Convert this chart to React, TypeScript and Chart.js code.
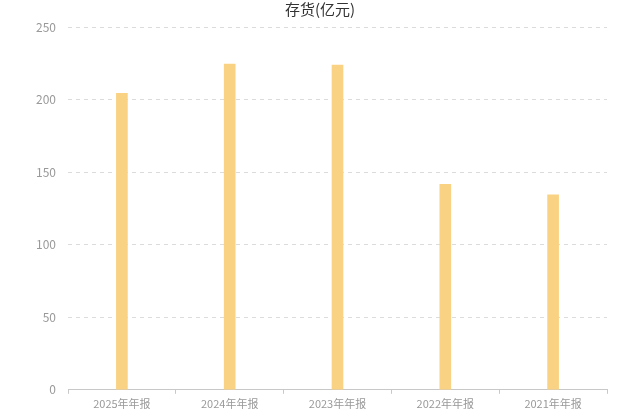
import { useEffect, useRef } from "react";
import Chart from "chart.js/auto";

// 存货(亿元) by annual report
const categories = ["2025年年报", "2024年年报", "2023年年报", "2022年年报", "2021年年报"];
const inventory = [204.3, 224.4, 223.8, 141.6, 134.3];
const yTicks = [0, 50, 100, 150, 200, 250];

const FONT = "'Noto Sans CJK SC', 'Noto Sans', sans-serif";

const App = () => {
  const chartRef = useRef<HTMLCanvasElement>(null);
  const chartInstance = useRef<Chart | null>(null);

  useEffect(() => {
    if (!chartRef.current) return;
    if (chartInstance.current) chartInstance.current.destroy();

    chartInstance.current = new Chart(chartRef.current, {
      type: "bar",
      data: {
        labels: categories,
        datasets: [
          {
            label: "存货",
            data: inventory,
            backgroundColor: "#F9D383",
            barThickness: 11,
          },
        ],
      },
      options: {
        animation: false,
        responsive: true,
        maintainAspectRatio: false,
        layout: { padding: 0 },
        plugins: {
          legend: { display: false },
          tooltip: { enabled: false },
          title: {
            display: true,
            text: "存货(亿元)",
            color: "#333",
            font: { family: FONT, size: 15, weight: "normal" },
            padding: { top: 0, bottom: 9 },
          },
        },
        scales: {
          x: {
            offset: true,
            border: { display: true, color: "#c8c8c8" },
            grid: {
              display: true,
              drawOnChartArea: false,
              drawTicks: true,
              tickLength: 4,
              color: "#c8c8c8",
              offset: true,
            },
            ticks: {
              color: "#999",
              font: { family: FONT, size: 11 },
              padding: 3,
              maxRotation: 0,
            },
          },
          y: {
            min: 0,
            max: 250,
            afterFit: (scale: any) => {
              scale.width = 68;
            },
            afterBuildTicks: (scale: any) => {
              scale.ticks = yTicks.map((v) => ({ value: v }));
            },
            border: { display: false, dash: [4, 4] },
            grid: {
              color: "#dcdcdc",
              drawTicks: false,
            },
            ticks: {
              color: "#999",
              font: { family: FONT, size: 12 },
              padding: 12,
            },
          },
          // empty right-hand axis, only keeps the right margin
          yRight: {
            position: "right",
            min: 0,
            max: 250,
            afterFit: (scale: any) => {
              scale.width = 33;
            },
            border: { display: false },
            grid: { display: false },
            ticks: { display: false },
          },
        },
      },
    });

    return () => {
      if (chartInstance.current) {
        chartInstance.current.destroy();
        chartInstance.current = null;
      }
    };
  }, []);

  return (
    <div
      style={{
        position: "absolute",
        left: 0,
        top: 0,
        width: 640,
        height: 413,
        background: "#fff",
      }}
    >
      <canvas ref={chartRef}></canvas>
    </div>
  );
};

export default App;
